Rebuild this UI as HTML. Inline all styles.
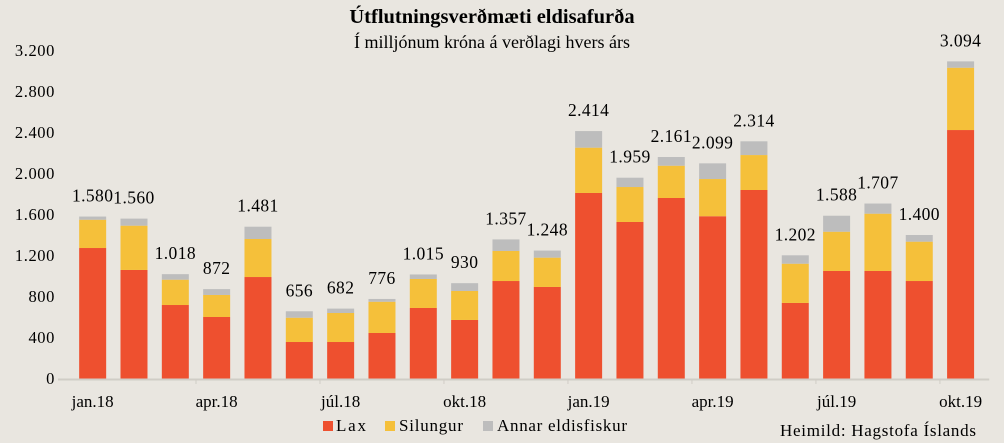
<!DOCTYPE html>
<html><head><meta charset="utf-8"><style>
body{margin:0;background:#e9e6e0;}
svg{display:block;font-family:"Liberation Serif",serif;}
</style></head><body>
<svg id="chart" width="1004" height="443">
<rect width="1004" height="443" fill="#e9e6e0"/>
<text x="492" y="23" text-anchor="middle" font-size="20.5" font-weight="bold">Útflutningsverðmæti eldisafurða</text>
<text x="492" y="48" text-anchor="middle" font-size="18">Í milljónum króna á verðlagi hvers árs</text>
<g id="yaxis"></g><g id="bars"></g><g id="xaxis"></g>
<g font-size="17">
<rect x="323" y="421" width="10" height="10" fill="#ee502f"/>
<text x="336" y="431" textLength="30">Lax</text>
<rect x="385" y="421" width="10" height="10" fill="#f5c03a"/>
<text x="399" y="431" textLength="64">Silungur</text>
<rect x="483" y="421" width="10" height="10" fill="#bdbdbd"/>
<text x="497" y="431" textLength="130">Annar eldisfiskur</text>
</g>
<text x="780" y="436" font-size="17" textLength="196">Heimild:  Hagstofa Íslands</text>
</svg>
<script>
const categories=["jan.18","feb.18","mar.18","apr.18","maí.18","jún.18","júl.18","ágú.18","sep.18","okt.18","nóv.18","des.18","jan.19","feb.19","mar.19","apr.19","maí.19","jún.19","júl.19","ágú.19","sep.19","okt.19"];
const lax=[1273,1059,717,600,990,356,356,444,688,571,951,893,1810,1527,1761,1583,1839,737,1049,1049,951,2424];
const silungur=[276,432,247,215,371,237,283,305,283,283,293,286,442,341,315,363,341,383,383,559,384,608];
const totals=[1580,1560,1018,872,1481,656,682,776,1015,930,1357,1248,2414,1959,2161,2099,2314,1202,1588,1707,1400,3094];
const totalLabels=["1.580","1.560","1.018","872","1.481","656","682","776","1.015","930","1.357","1.248","2.414","1.959","2.161","2.099","2.314","1.202","1.588","1.707","1.400","3.094"];
const yTicks=[0,400,800,1200,1600,2000,2400,2800,3200];
const yTickLabels=["0","400","800","1.200","1.600","2.000","2.400","2.800","3.200"];
const xLabelIdx=[0,3,6,9,12,15,18,21];

const NS="http://www.w3.org/2000/svg";
const y0=378.5,yScale=328/3200,x0=72,band=41.33,bw=27;
function y(v){return y0-v*yScale;}
function xc(i){return x0+band*(i+0.5);}
function mk(tag,attrs,parent){const e=document.createElementNS(NS,tag);for(const k in attrs)e.setAttribute(k,attrs[k]);parent.appendChild(e);return e;}
const ya=document.getElementById('yaxis'),bg=document.getElementById('bars'),xa=document.getElementById('xaxis');
yTicks.forEach((t,i)=>{
  const tx=mk('text',{x:55,y:y(t)+5.5,'text-anchor':'end','font-size':16.5,'letter-spacing':0.6},ya);
  
  
  tx.textContent=yTickLabels[i];
});
categories.forEach((c,i)=>{
  const segs=[[0,lax[i],'#ee502f','lax'],[lax[i],lax[i]+silungur[i],'#f5c03a','silungur'],[lax[i]+silungur[i],totals[i],'#bdbdbd','annar']];
  segs.forEach(s=>{
    const r=mk('rect',{x:xc(i)-bw/2,y:y(s[1]),width:bw,height:Math.max(0,y(s[0])-y(s[1])),fill:s[2]},bg);
    
    
  });
  const t=mk('text',{x:xc(i),y:y(totals[i])-15,'text-anchor':'middle','font-size':17.5,'letter-spacing':0.4},bg);
  
  
  t.textContent=totalLabels[i];
});
const ax=mk('line',{x1:x0-14,x2:x0+band*categories.length+8,y1:379.5,y2:379.5,stroke:'#d0cdc6','stroke-width':2},xa);


for(let k=3;k<categories.length;k+=3){
  const tk=mk('line',{x1:x0+band*k,x2:x0+band*k,y1:380,y2:384,stroke:'#d0cdc6','stroke-width':1},xa);
  
  
}
xLabelIdx.forEach(i=>{
  const t=mk('text',{x:xc(i),y:407,'text-anchor':'middle','font-size':17},xa);
  
  
  t.textContent=categories[i];
});
</script>
</body></html>
